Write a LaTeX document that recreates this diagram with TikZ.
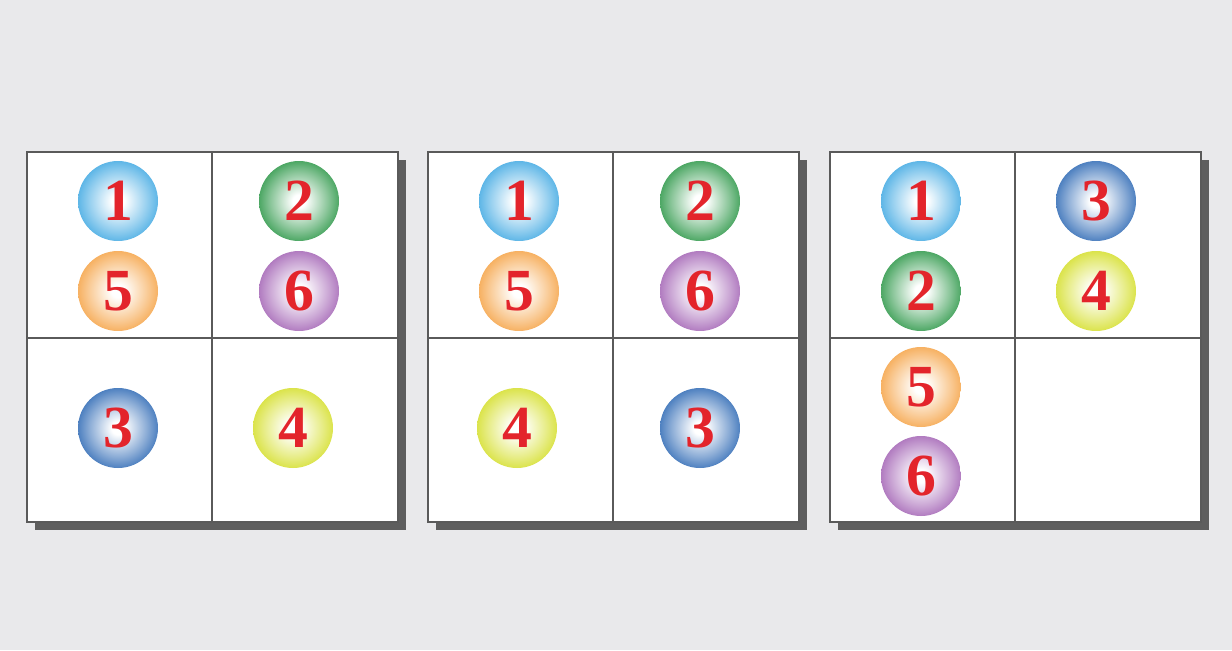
\documentclass[tikz,border=0pt]{standalone}
\usepackage{fontspec}
\setmainfont{Liberation Serif}
\definecolor{bgray}{HTML}{E9E9EB}
\definecolor{shadowgray}{HTML}{5E5E5E}
\definecolor{linegray}{HTML}{5A5A5A}
\definecolor{numred}{HTML}{E3242B}
\definecolor{cone}{HTML}{3FA8E2}
\definecolor{ctwo}{HTML}{2A9646}
\definecolor{cthree}{HTML}{2C68B4}
\definecolor{cfour}{HTML}{D4DE28}
\definecolor{cfive}{HTML}{F5A244}
\definecolor{csix}{HTML}{A262B4}
\colorlet{ballc}{cone}
\pgfdeclareradialshading[ballc]{ballshade}{\pgfpoint{0bp}{0bp}}{color(0bp)=(white);color(4bp)=(white);color(18bp)=(ballc!55!white);color(29bp)=(ballc);color(50bp)=(ballc)}
\tikzset{
  ball/.style={circle,minimum size=1.6cm,inner sep=0pt,
    /utils/exec={\colorlet{ballc}{#1}},shading=ballshade,
    text=numred,font=\fontsize{34}{34}\selectfont\bfseries},
  panel/.style={fill=white,draw=linegray,line width=0.8pt}
}
\begin{document}
\begin{tikzpicture}[x=0.02cm,y=-0.02cm]
    \fill[bgray] (0,0) rectangle (1232,650);
    % three boxes with a shadow
    \foreach \px in {27,428,830} {
        \fill[shadowgray] (\px+8,160) rectangle (\px+379,530);
        \filldraw[panel] (\px,152) rectangle (\px+371,522);
        \draw[linegray,line width=0.8pt] (\px+185,152) -- (\px+185,522);
        \draw[linegray,line width=0.8pt] (\px,338) -- (\px+371,338);
    }
    % first box
    \node[ball=cone]   (a1) at (118,201) {1};
    \node[ball=cfive]  (a5) at (118,291) {5};
    \node[ball=ctwo]   (a2) at (299,201) {2};
    \node[ball=csix]   (a6) at (299,291) {6};
    \node[ball=cthree] (a3) at (118,428) {3};
    \node[ball=cfour]  (a4) at (293,428) {4};
    % second box
    \node[ball=cone]   (b1) at (519,201) {1};
    \node[ball=cfive]  (b5) at (519,291) {5};
    \node[ball=ctwo]   (b2) at (700,201) {2};
    \node[ball=csix]   (b6) at (700,291) {6};
    \node[ball=cfour]  (b4) at (517,428) {4};
    \node[ball=cthree] (b3) at (700,428) {3};
    % third box
    \node[ball=cone]   (c1) at (921,201) {1};
    \node[ball=ctwo]   (c2) at (921,291) {2};
    \node[ball=cthree] (c3) at (1096,201) {3};
    \node[ball=cfour]  (c4) at (1096,291) {4};
    \node[ball=cfive]  (c5) at (921,387) {5};
    \node[ball=csix]   (c6) at (921,476) {6};
\end{tikzpicture}
\end{document}
